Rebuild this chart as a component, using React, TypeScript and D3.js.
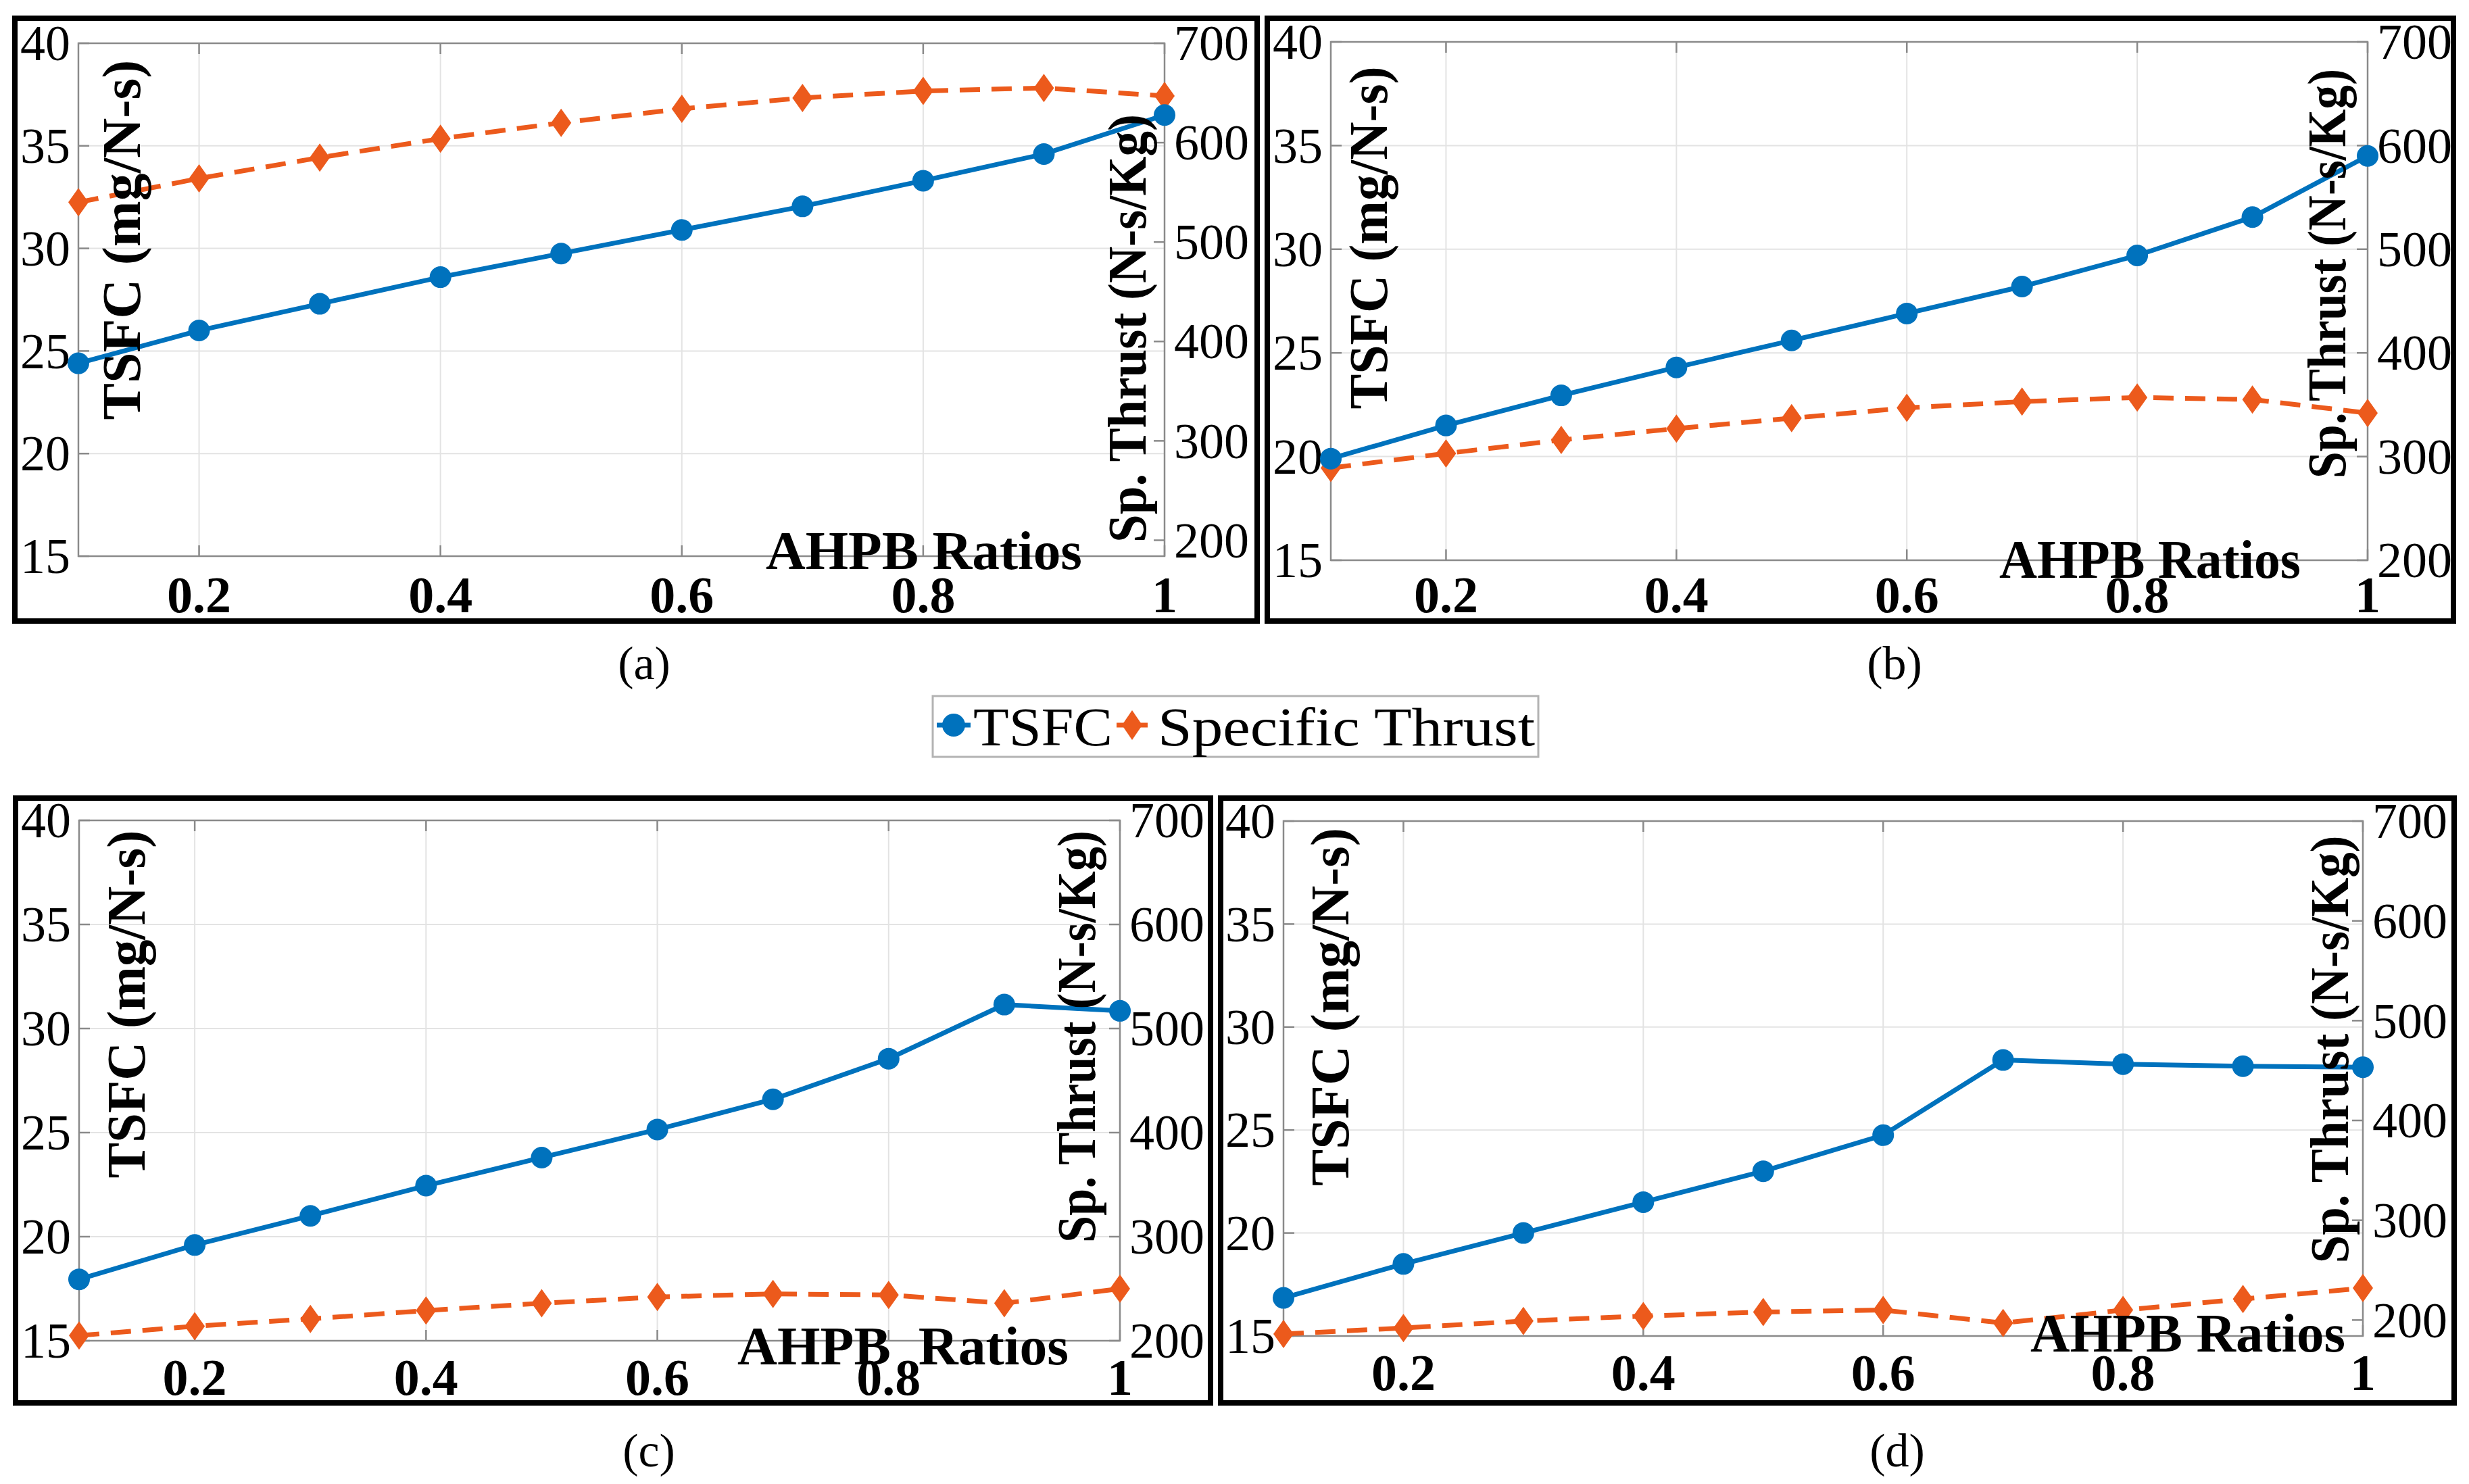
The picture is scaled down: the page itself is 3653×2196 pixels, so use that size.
import React, { useEffect, useRef } from "react";
import * as d3 from "d3";

// AHPB ratio on the x axis, shared by all four panels
const ratios = [0.1, 0.2, 0.3, 0.4, 0.5, 0.6, 0.7, 0.8, 0.9, 1.0];
const xTicks = [0.2, 0.4, 0.6, 0.8, 1];
const tsfcTicks = [15, 20, 25, 30, 35, 40];
const thrustTicks = [200, 300, 400, 500, 600, 700];

// TSFC (mg/N-s), left axis
const tsfcA = [24.4, 26.0, 27.3, 28.6, 29.75, 30.9, 32.05, 33.3, 34.6, 36.5];
const tsfcB = [19.9, 21.5, 22.95, 24.3, 25.6, 26.9, 28.2, 29.7, 31.55, 34.5];
const tsfcC = [17.95, 19.6, 21.0, 22.45, 23.8, 25.15, 26.6, 28.55, 31.15, 30.85];
const tsfcD = [16.85, 18.5, 20.0, 21.5, 23.0, 24.75, 28.4, 28.2, 28.1, 28.05];

// Specific thrust (N-s/Kg), right axis
const thrustA = [540, 564, 585, 604, 620, 634, 645, 652, 655, 647];
const thrustB = [289, 303, 316, 327, 337, 347, 353, 357, 355, 342];
const thrustC = [205, 214, 221, 229, 236, 242, 245, 244, 236, 250];
const thrustD = [186, 192, 199, 204, 208, 210, 197, 210, 221, 232];

const tsfcSeries = [tsfcA, tsfcB, tsfcC, tsfcD];
const thrustSeries = [thrustA, thrustB, thrustC, thrustD];
const thrustMin = [184, 200, 200, 184];
const panelNames = ["(a)", "(b)", "(c)", "(d)"];
const xLabels = ["AHPB Ratios", "AHPB Ratios", "AHPB  Ratios", "AHPB Ratios"];
const legendLabels = ["TSFC", "Specific Thrust"];

const W = 3653;
const H = 2196;
const BLUE = "#0072BD";
const ORANGE = "#EC5A1C";
const AXIS = "#8a8a8a";
const FONT = "'Liberation Serif', 'Times New Roman', serif";

// frame [x0,y0,x1,y1], plot [x0,y0,x1,y1], label placement
const layout = [
  {
    frame: [22, 27, 1860, 919],
    plot: [116, 64, 1723, 823],
    yl: { x: 207, y: 355, len: 533 },
    yr: { x: 1695, y: 486, len: 634 },
    xl: { x: 1367, y: 842, len: 468 },
    tickY: 906,
    cap: { x: 953, y: 1005 },
  },
  {
    frame: [1875, 27, 3630, 919],
    plot: [1969, 62, 3503, 829],
    yl: { x: 2052, y: 352, len: 507 },
    yr: { x: 3470, y: 405, len: 606 },
    xl: { x: 3181, y: 855, len: 446 },
    tickY: 906,
    cap: { x: 2803, y: 1005 },
  },
  {
    frame: [23, 1181, 1791, 2076],
    plot: [117, 1214, 1657, 1984],
    yl: { x: 214, y: 1486, len: 515 },
    yr: { x: 1620, y: 1534, len: 610 },
    xl: { x: 1336, y: 2019, len: 490 },
    tickY: 2064,
    cap: { x: 960, y: 2170 },
  },
  {
    frame: [1806, 1181, 3631, 2076],
    plot: [1899, 1215, 3496, 1977],
    yl: { x: 1995, y: 1490, len: 530 },
    yr: { x: 3474, y: 1553, len: 633 },
    xl: { x: 3237, y: 2000, len: 466 },
    tickY: 2057,
    cap: { x: 2807, y: 2170 },
  },
];

const diamond = (cx: number, cy: number, w: number, h: number) =>
  `M${cx},${cy - h}L${cx + w},${cy}L${cx},${cy + h}L${cx - w},${cy}Z`;

const App: React.FC = () => {
  const ref = useRef<SVGSVGElement | null>(null);

  useEffect(() => {
    if (!ref.current) return;
    document.body.style.margin = "0";
    const svg = d3.select(ref.current);
    svg.selectAll("*").remove();
    svg.append("rect").attr("width", W).attr("height", H).attr("fill", "#fff");

    layout.forEach((lay, i) => {
      const [px0, py0, px1, py1] = lay.plot;
      const x = d3.scaleLinear().domain([0.1, 1]).range([px0, px1]);
      const yL = d3.scaleLinear().domain([15, 40]).range([py1, py0]);
      const yR = d3.scaleLinear().domain([thrustMin[i], 700]).range([py1, py0]);
      const g = svg.append("g");

      // grid
      g.selectAll(".gx")
        .data(xTicks.slice(0, -1))
        .join("line")
        .attr("x1", (d) => x(d))
        .attr("x2", (d) => x(d))
        .attr("y1", py0)
        .attr("y2", py1)
        .attr("stroke", "#e3e3e3")
        .attr("stroke-width", 2);
      g.selectAll(".gy")
        .data(tsfcTicks.slice(1, -1))
        .join("line")
        .attr("x1", px0)
        .attr("x2", px1)
        .attr("y1", (d) => yL(d))
        .attr("y2", (d) => yL(d))
        .attr("stroke", "#e3e3e3")
        .attr("stroke-width", 2);

      // axes box + inward ticks
      g.append("rect")
        .attr("x", px0)
        .attr("y", py0)
        .attr("width", px1 - px0)
        .attr("height", py1 - py0)
        .attr("fill", "none")
        .attr("stroke", AXIS)
        .attr("stroke-width", 2.5);
      const tk = 16;
      xTicks.forEach((t) => {
        g.append("line").attr("x1", x(t)).attr("x2", x(t)).attr("y1", py1).attr("y2", py1 - tk)
          .attr("stroke", AXIS).attr("stroke-width", 2.5);
        g.append("line").attr("x1", x(t)).attr("x2", x(t)).attr("y1", py0).attr("y2", py0 + tk)
          .attr("stroke", AXIS).attr("stroke-width", 2.5);
      });
      tsfcTicks.forEach((t) => {
        g.append("line").attr("x1", px0).attr("x2", px0 + tk).attr("y1", yL(t)).attr("y2", yL(t))
          .attr("stroke", AXIS).attr("stroke-width", 2.5);
      });
      thrustTicks.forEach((t) => {
        g.append("line").attr("x1", px1).attr("x2", px1 - tk).attr("y1", yR(t)).attr("y2", yR(t))
          .attr("stroke", AXIS).attr("stroke-width", 2.5);
      });

      // tick labels
      const tickText = g.append("g").attr("font-family", FONT).attr("font-size", 74).attr("fill", "#000");
      xTicks.forEach((t) => {
        tickText.append("text").attr("x", x(t)).attr("y", lay.tickY).attr("text-anchor", "middle")
          .attr("font-weight", "bold").attr("font-size", 76).text(d3.format("~g")(t));
      });
      tsfcTicks.forEach((t) => {
        tickText.append("text").attr("x", px0 - 12).attr("y", yL(t)).attr("dy", "0.34em")
          .attr("text-anchor", "end").text(String(t));
      });
      thrustTicks.forEach((t) => {
        tickText.append("text").attr("x", px1 + 14).attr("y", yR(t)).attr("dy", "0.34em")
          .attr("text-anchor", "start").text(String(t));
      });

      // series
      const tsfc = tsfcSeries[i];
      const thrust = thrustSeries[i];
      const lineL = d3.line<number>().x((_, j) => x(ratios[j])).y((d) => yL(d));
      const lineR = d3.line<number>().x((_, j) => x(ratios[j])).y((d) => yR(d));
      g.append("path").attr("d", lineR(thrust)).attr("fill", "none").attr("stroke", ORANGE)
        .attr("stroke-width", 7).attr("stroke-dasharray", "30,17");
      g.selectAll(".dm").data(thrust).join("path")
        .attr("d", (d, j) => diamond(x(ratios[j]), yR(d), 15, 21)).attr("fill", ORANGE);
      g.append("path").attr("d", lineL(tsfc)).attr("fill", "none").attr("stroke", BLUE).attr("stroke-width", 7);
      g.selectAll(".ci").data(tsfc).join("circle")
        .attr("cx", (_, j) => x(ratios[j])).attr("cy", (d) => yL(d)).attr("r", 16).attr("fill", BLUE);

      // axis labels, drawn over the lines as in the original
      const lab = g.append("g").attr("font-family", FONT).attr("font-weight", "bold").attr("font-size", 80).attr("fill", "#000");
      lab.append("text")
        .attr("transform", `translate(${lay.yl.x},${lay.yl.y}) rotate(-90)`)
        .attr("text-anchor", "middle")
        .attr("textLength", lay.yl.len)
        .attr("lengthAdjust", "spacingAndGlyphs")
        .text("TSFC (mg/N-s)");
      lab.append("text")
        .attr("transform", `translate(${lay.yr.x},${lay.yr.y}) rotate(-90)`)
        .attr("text-anchor", "middle")
        .attr("textLength", lay.yr.len)
        .attr("lengthAdjust", "spacingAndGlyphs")
        .text("Sp. Thrust (N-s/Kg)");
      lab.append("text")
        .attr("x", lay.xl.x).attr("y", lay.xl.y)
        .attr("text-anchor", "middle")
        .attr("textLength", lay.xl.len).attr("lengthAdjust", "spacingAndGlyphs")
        .style("white-space", "pre")
        .text(xLabels[i]);

      // frame
      const [fx0, fy0, fx1, fy1] = lay.frame;
      g.append("rect").attr("x", fx0).attr("y", fy0).attr("width", fx1 - fx0).attr("height", fy1 - fy0)
        .attr("fill", "none").attr("stroke", "#000").attr("stroke-width", 8);

      // caption
      svg.append("text").attr("x", lay.cap.x).attr("y", lay.cap.y).attr("text-anchor", "middle")
        .attr("font-family", FONT).attr("font-size", 70).text(panelNames[i]);
    });

    // legend
    const lg = svg.append("g");
    lg.append("rect").attr("x", 1380).attr("y", 1030).attr("width", 896).attr("height", 90)
      .attr("fill", "#fff").attr("stroke", "#b3b3b3").attr("stroke-width", 3);
    lg.append("line").attr("x1", 1386).attr("x2", 1436).attr("y1", 1073).attr("y2", 1073)
      .attr("stroke", BLUE).attr("stroke-width", 7);
    lg.append("circle").attr("cx", 1411).attr("cy", 1073).attr("r", 17).attr("fill", BLUE);
    lg.append("line").attr("x1", 1652).attr("x2", 1698).attr("y1", 1073).attr("y2", 1073)
      .attr("stroke", ORANGE).attr("stroke-width", 7);
    lg.append("path").attr("d", diamond(1675, 1073, 15, 22)).attr("fill", ORANGE);
    lg.append("text").attr("x", 1440).attr("y", 1103).attr("font-family", FONT).attr("font-size", 80)
      .attr("textLength", 206).attr("lengthAdjust", "spacingAndGlyphs").text(legendLabels[0]);
    lg.append("text").attr("x", 1713).attr("y", 1103).attr("font-family", FONT).attr("font-size", 80)
      .attr("textLength", 558).attr("lengthAdjust", "spacingAndGlyphs").text(legendLabels[1]);
  }, []);

  return <svg ref={ref} width={W} height={H} style={{ display: "block" }}></svg>;
};

export default App;
